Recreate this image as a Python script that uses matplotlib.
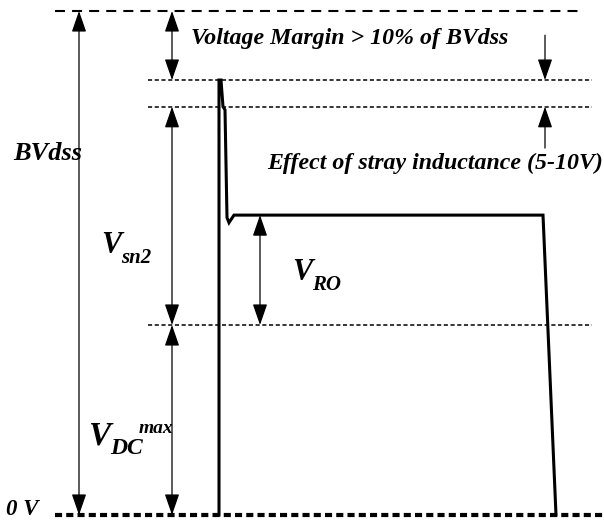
import matplotlib
matplotlib.use("Agg")
import matplotlib.pyplot as plt
from matplotlib.patches import FancyArrowPatch

plt.rcParams["font.family"] = ["Liberation Serif", "DejaVu Serif"]

# Voltage levels (BVdss = 100)
bvdss = 100.0
margin_level = 86.3     # top of spike
stray_level = 81.0      # spike minus stray inductance effect
vro_level = 59.5        # reflected voltage plateau
vdc_level = 37.7        # V_DC max

# Drain voltage waveform (time in arbitrary units)
wave_t = [219, 219, 221, 223, 225, 227, 229, 234, 543, 556]
wave_v = [0, 86.3, 86.3, 81.0, 80.4, 59.0, 58.0, 59.5, 59.5, 0]

fig = plt.figure(figsize=(6.04, 5.26), dpi=100)
ax = fig.add_axes([0, 0, 1, 1])
ax.set_xlim(0, 604)
ax.set_ylim(-2.18, 102.18)
ax.axis("off")

# Reference lines
ax.plot([55, 580], [bvdss, bvdss], color="black", lw=1.5,
        linestyle=(0, (4.8, 3.4)))
for lvl in [margin_level, stray_level, vdc_level]:
    ax.plot([148, 592], [lvl, lvl], color="black", lw=1.1,
            linestyle=(0, (2.7, 1.7)))
ax.plot([55, 604], [0, 0], color="black", lw=3,
        linestyle=(0, (1.7, 1.0)))

# Waveform
ax.plot(wave_t, wave_v, color="black", lw=2.2, solid_joinstyle="miter")


def arrow(x, y0, y1, style="<|-|>"):
    a = FancyArrowPatch((x, y0), (x, y1),
                        arrowstyle=f"{style},head_length=1.3,head_width=0.45",
                        mutation_scale=10, color="black", lw=0.9,
                        shrinkA=0, shrinkB=0)
    ax.add_patch(a)


arrow(79, 0, bvdss)
arrow(172, margin_level, bvdss)
arrow(172, vdc_level, stray_level)
arrow(172, 0, vdc_level)
arrow(260, vdc_level, vro_level)
arrow(545, 95.2, margin_level, "-|>")
arrow(545, 72.8, stray_level, "-|>")

txt = dict(color="black", fontweight="bold", fontstyle="italic")
ax.text(191, 94.6, "Voltage Margin > 10% of BVdss", fontsize=17.2,
        ha="left", va="center", **txt)
ax.text(603, 69.8, "Effect of stray inductance (5-10V)", fontsize=17.2,
        ha="right", va="center", **txt)
ax.text(13, 71.8, "BVdss", fontsize=19, ha="left", va="center", **txt)

# V_sn2
ax.text(101, 52.0, "V", fontsize=22, ha="left", va="baseline", **txt)
ax.text(121, 50.0, "sn2", fontsize=15, ha="left", va="baseline", **txt)
# V_RO
ax.text(292, 46.6, "V", fontsize=22, ha="left", va="baseline", **txt)
ax.text(312, 44.6, "RO", fontsize=15, ha="left", va="baseline", **txt)
# V_DC^max
ax.text(88, 13.9, "V", fontsize=24, ha="left", va="baseline", **txt)
ax.text(110, 12.1, "DC", fontsize=17, ha="left", va="baseline", **txt)
ax.text(139, 16.3, "max", fontsize=14, ha="left", va="baseline", **txt)

ax.text(6, 0, "0 V", fontsize=16.5, ha="left", va="baseline", **txt)

plt.savefig("out.png", dpi=100)
